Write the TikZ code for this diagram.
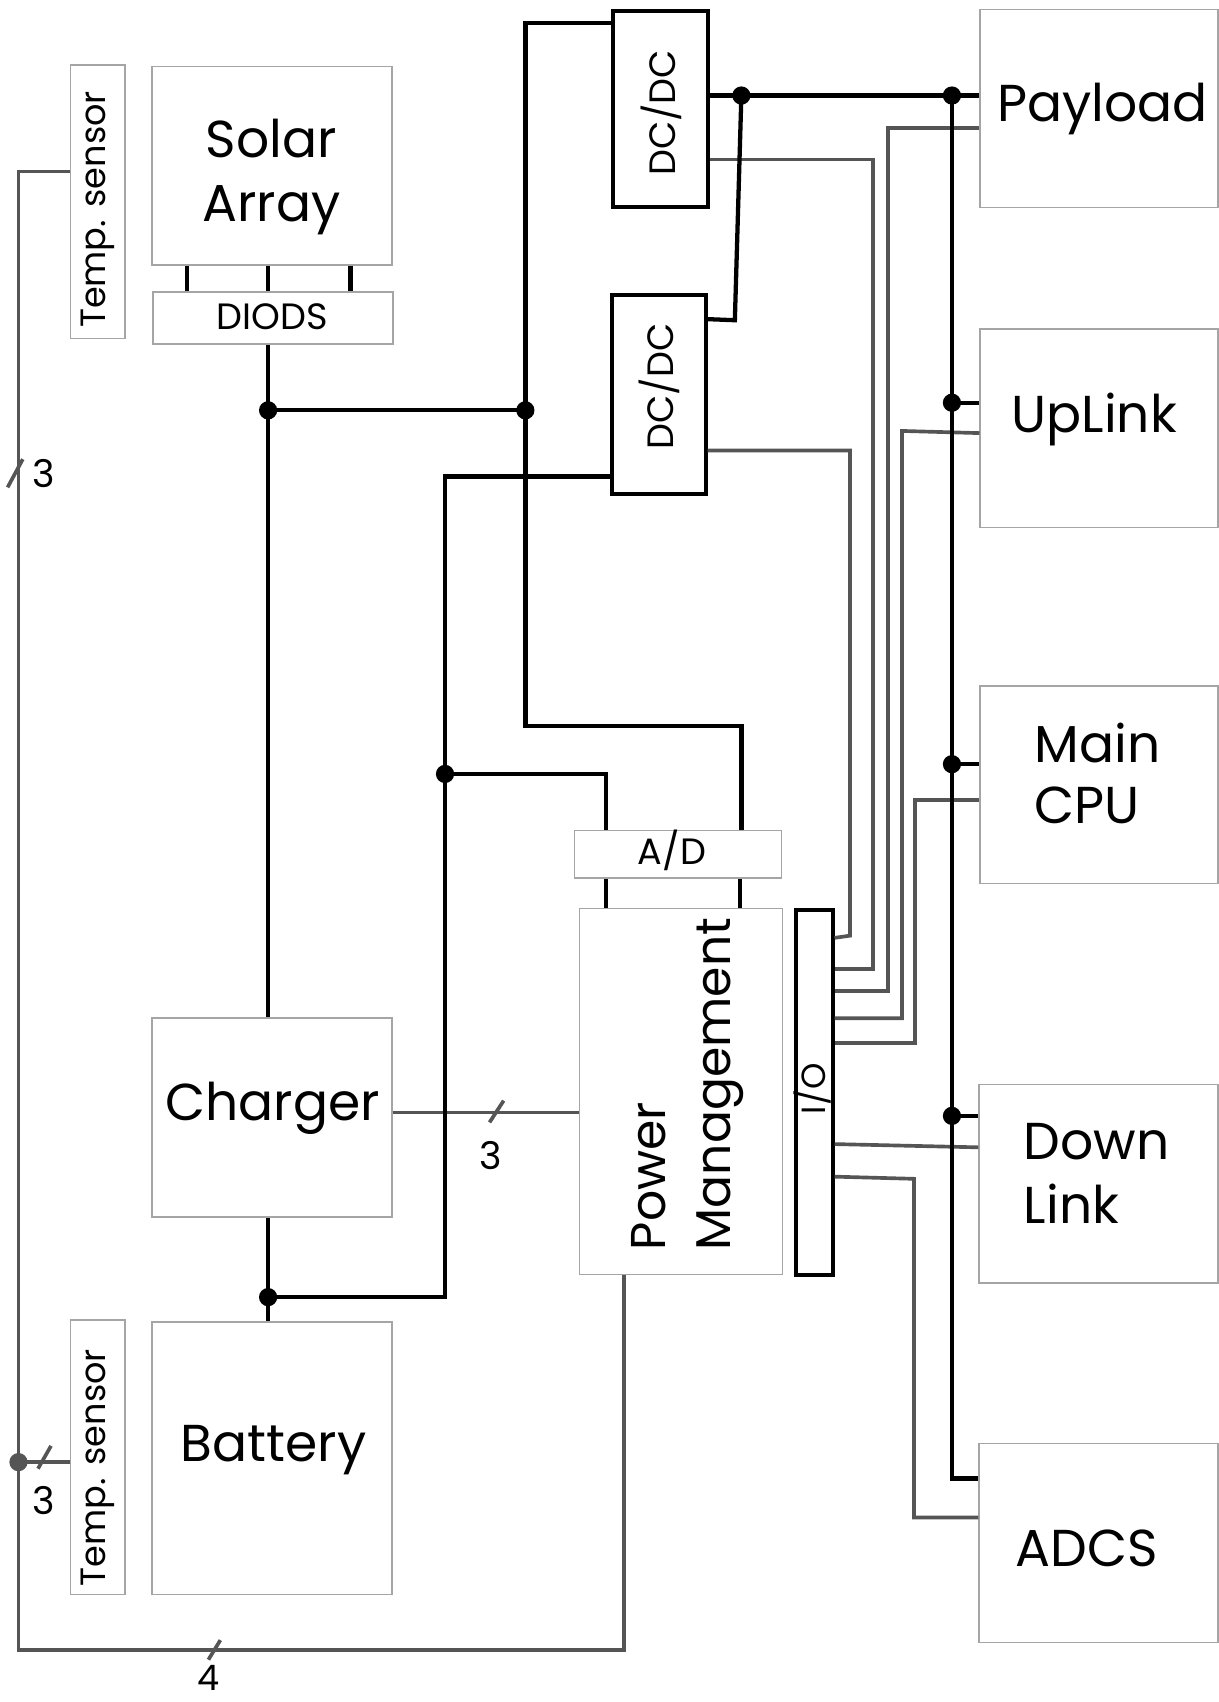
\documentclass[tikz,border=0pt]{standalone}
\usepackage{fontspec}
\setmainfont{Poppins}
\usetikzlibrary{fit,calc}
\definecolor{wire}{RGB}{85,85,85}
\definecolor{boxline}{RGB}{165,165,165}
\tikzset{
  thinbox/.style={draw=boxline, line width=0.9pt, inner sep=0pt},
  thickbox/.style={draw=black, line width=2.6pt, inner sep=0pt},
  pw/.style={draw=black, line width=2.8pt},
  sig/.style={draw=wire, line width=2.4pt},
  biglbl/.style={font=\fontsize{34}{40}\selectfont, inner sep=0pt},
  pmlbl/.style={font=\fontsize{32}{38}\selectfont, inner sep=0pt},
  smalllbl/.style={font=\fontsize{24}{28}\selectfont, inner sep=0pt},
  tslbl/.style={font=\fontsize{23}{27}\selectfont, inner sep=0pt},
  numlbl/.style={font=\fontsize{25}{28}\selectfont, inner sep=0pt},
}
\begin{document}
\begin{tikzpicture}[x=0.025cm,y=-0.025cm]
\useasboundingbox[fill=white] (0,0) rectangle (1123,1568);

% ---------- boxes ----------
\node[thinbox, fit={(65,60) (115,312)}] (ts1) {};
\node[thinbox, fit={(140,61) (361,244)}] (solar) {};
\node[thinbox, fit={(141,269) (362,317)}] (diods) {};
\node[thinbox, fit={(140,938) (361,1121)}] (charger) {};
\node[thinbox, fit={(140,1218) (361,1469)}] (battery) {};
\node[thinbox, fit={(65,1216) (115,1469)}] (ts2) {};
\node[thinbox, fit={(529,765) (720,809)}] (ad) {};
\node[thinbox, fit={(534,837) (721,1174)}] (pm) {};
\node[thinbox, fit={(903,9) (1122,191)}] (payload) {};
\node[thinbox, fit={(903,303) (1122,486)}] (uplink) {};
\node[thinbox, fit={(903,632) (1122,814)}] (maincpu) {};
\node[thinbox, fit={(902,999) (1122,1182)}] (downlink) {};
\node[thinbox, fit={(902,1330) (1122,1513)}] (adcs) {};
\node[thickbox, fit={(565,10) (652,191)}] (dc1) {};
\node[thickbox, fit={(564,272) (650,455)}] (dc2) {};
\node[thickbox, fit={(733,838) (767,1175)}] (io) {};

% ---------- texts ----------
\node[biglbl, anchor=base] (tSolar) at (250,145) {Solar};
\node[biglbl, anchor=base] (tArray) at (250,204) {Array};
\node[biglbl, anchor=base] (tCharger) at (251,1032) {Charger};
\node[biglbl, anchor=base] (tBattery) at (252,1346) {Battery};
\node[biglbl, anchor=base] (tPayload) at (1016,112) {Payload};
\node[biglbl, anchor=base] (tUpLink) at (1008,398) {UpLink};
\node[biglbl, anchor=base west] (tMain) at (953,702) {Main};
\node[biglbl, anchor=base west] (tCPU) at (953,759) {CPU};
\node[biglbl, anchor=base west] (tDown) at (943,1068) {Down};
\node[biglbl, anchor=base west] (tLink) at (943,1127) {Link};
\node[biglbl, anchor=base] (tADCS) at (1001,1443) {ADCS};
\node[pmlbl, rotate=90, anchor=base west] (tPower) at (613,1152) {Power};
\node[pmlbl, rotate=90, anchor=base west] (tManage) at (673,1152) {Management};
\node[smalllbl, anchor=base] (tDiods) at (251,304) {DIODS};
\node[smalllbl, anchor=base] (tAD) at (619,796) {A/D};
\node[smalllbl, rotate=90] (tDC1) at (609,104) {DC/DC};
\node[smalllbl, rotate=90] (tDC2) at (607,356) {DC/DC};
\node[tslbl, rotate=90] (tTs1) at (90,193) {Temp. sensor};
\node[tslbl, rotate=90] (tTs2) at (90,1352) {Temp. sensor};
\node[font=\fontsize{22}{26}\selectfont, inner sep=0pt, rotate=90] (tIO) at (749,1003) {I/O};
\node[numlbl] (n1) at (40,436) {3};
\node[numlbl] (n2) at (452,1065) {3};
\node[numlbl] (n3) at (40,1382) {3};
\node[font=\fontsize{23}{26}\selectfont, inner sep=0pt] (n4) at (192,1546) {4};

% ---------- junctions ----------
\coordinate (j1) at (247,378);
\coordinate (j2) at (484,378);
\coordinate (j3) at (683,88);
\coordinate (j4) at (877,88);
\coordinate (j5) at (410,713);
\coordinate (j6) at (247,1195);
\coordinate (j7) at (877,371);
\coordinate (j8) at (877,704);
\coordinate (j9) at (877,1028);
\coordinate (g1) at (17,1347);

% ---------- signal (grey) wires ----------
\draw[sig] (ts1.west |- 0,158) -- (17,158) -- (17,1520) -- (575,1520) -- (pm.south -| 575,0);
\draw[sig] (ts2.west |- g1) -- (g1);
\draw[sig] (charger.east |- 0,1025) -- (pm.west |- 0,1025);
\draw[sig] (dc2.east |- 0,415) -- (783,415) -- (783,862) -- (io.east |- 0,864);
\draw[sig] (dc1.east |- 0,147) -- (804,147) -- (804,893) -- (io.east |- 0,893);
\draw[sig] (payload.west |- 0,118) -- (818,118) -- (818,913) -- (io.east |- 0,913);
\draw[sig] (uplink.west |- 0,399) -- (831,397) -- (831,938) -- (io.east |- 0,938);
\draw[sig] (maincpu.west |- 0,737) -- (843,737) -- (843,961) -- (io.east |- 0,961);
\draw[sig] (io.east |- 0,1054) -- (downlink.west |- 0,1057);
\draw[sig] (io.east |- 0,1084) -- (842,1086) -- (842,1398) -- (adcs.west |- 0,1398);
% bus-width ticks
\draw[sig] (7,449) -- (21,423);
\draw[sig] (451,1034) -- (464,1014);
\draw[sig] (35,1353) -- (47,1332);
\draw[sig] (192,1529) -- (203,1511);
\fill[wire] (g1) circle[radius=0.21cm];

% ---------- power (black) wires ----------
\foreach \xx in {172,247,323}
  \draw[pw] (solar.south -| \xx,0) -- (diods.north -| \xx,0);
\draw[pw] (diods.south -| 247,0) -- (charger.north -| 247,0);
\draw[pw] (charger.south -| 247,0) -- (battery.north -| 247,0);
\draw[pw] (j1) -- (j2);
\draw[pw] (dc1.west |- 0,21) -- (484,21) -- (484,669) -- (683,669) -- (ad.north -| 683,0);
\draw[pw] (dc1.east |- j3) -- (payload.west |- j3);
\draw[pw] (j3) -- (677,295) -- (dc2.east |- 0,294);
\draw[pw] (dc2.west |- 0,439) -- (410,439) -- (410,1195) -- (j6);
\draw[pw] (j5) -- (558,713) -- (ad.north -| 558,0);
\draw[pw] (ad.south -| 558,0) -- (pm.north -| 558,0);
\draw[pw] (ad.south -| 682,0) -- (pm.north -| 682,0);
\draw[pw] (j4) -- (877,1362) -- (adcs.west |- 0,1362);
\draw[pw] (j7) -- (uplink.west |- j7);
\draw[pw] (j8) -- (maincpu.west |- j8);
\draw[pw] (j9) -- (downlink.west |- j9);
\foreach \jj in {j1,j2,j3,j4,j5,j6,j7,j8,j9}
  \fill (\jj) circle[radius=0.21cm];
\end{tikzpicture}
\end{document}
